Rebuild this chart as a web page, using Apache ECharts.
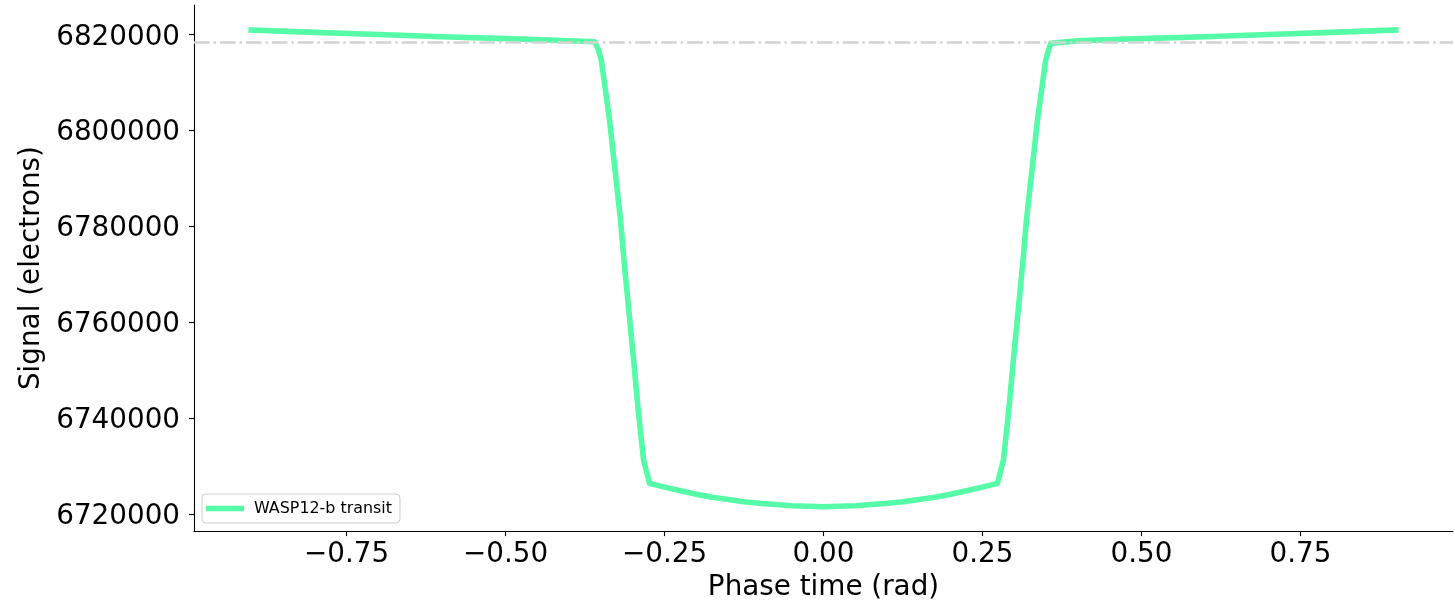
<!DOCTYPE html>
<html>
<head>
<meta charset="utf-8">
<script src="https://cdn.jsdelivr.net/npm/echarts@6/dist/echarts.min.js"></script>
<style>
html,body{margin:0;padding:0;background:#fff;}
#chart{width:1455px;height:607px;}
</style>
</head>
<body>
<div id="chart"></div>
<script>
// Data
const phase = [
  -0.9, -0.8, -0.7, -0.6, -0.5, -0.4, -0.36, -0.3575, -0.3538, -0.3495, -0.3365, -0.3192,
  -0.3135, -0.2987, -0.2914, -0.283, -0.2736, -0.25, -0.225, -0.2, -0.175, -0.15, -0.125, -0.1, -0.05, 0,
  0.05, 0.1, 0.125, 0.15, 0.175, 0.2, 0.225, 0.25, 0.2736, 0.283, 0.2914, 0.2987, 0.3135,
  0.3192, 0.3365, 0.3495, 0.3538, 0.3575, 0.36, 0.4, 0.5, 0.6, 0.7, 0.8, 0.9
];
const signal = [
  6820900, 6820400, 6819950, 6819500, 6819100, 6818650, 6818450, 6818100, 6816700, 6814650, 6802150, 6781300,
  6772500, 6752150, 6741700, 6731300, 6726400, 6725620, 6724850, 6724150, 6723520, 6723040, 6722580, 6722250, 6721750, 6721520,
  6721750, 6722250, 6722580, 6723040, 6723520, 6724150, 6724850, 6725620, 6726400, 6731300, 6741700, 6752150, 6772500,
  6781300, 6802150, 6814650, 6816700, 6818100, 6818450, 6818650, 6819100, 6819500, 6819950, 6820400, 6820900
];
const referenceLevel = 6818333;
const seriesName = 'WASP12-b transit';
const xTicks = [-0.75, -0.5, -0.25, 0, 0.25, 0.5, 0.75];
const yTicks = [6720000, 6740000, 6760000, 6780000, 6800000, 6820000];
const xTitle = 'Phase time (rad)';
const yTitle = 'Signal (electrons)';

const FONT = 'DejaVu Sans';
const chart = echarts.init(document.getElementById('chart'), null, {renderer: 'canvas'});
const pts = phase.map((p, i) => [p, signal[i]]);

chart.setOption({
  animation: false,
  backgroundColor: '#ffffff',
  grid: {left: 194, right: 2, top: 5, bottom: 75.7, containLabel: false},
  xAxis: {
    type: 'value', min: -0.99, max: 0.99,
    name: xTitle, nameLocation: 'middle', nameGap: 39,
    nameTextStyle: {fontFamily: FONT, fontSize: 27.8, color: '#000'},
    axisLine: {show: true, onZero: false, lineStyle: {color: '#000', width: 1.1}},
    axisTick: {show: true, inside: false, length: 5, lineStyle: {color: '#000', width: 1.1}, customValues: xTicks},
    axisLabel: {
      show: true, margin: 10, fontFamily: FONT, fontSize: 27.8, color: '#000',
      customValues: xTicks,
      formatter: v => (v < 0 ? '\u2212' : '') + Math.abs(v).toFixed(2)
    },
    splitLine: {show: false}
  },
  yAxis: {
    type: 'value', min: 6716458, max: 6826104,
    name: yTitle, nameLocation: 'middle', nameGap: 148,
    nameTextStyle: {fontFamily: FONT, fontSize: 27.8, color: '#000'},
    axisLine: {show: true, onZero: false, lineStyle: {color: '#000', width: 1.1}},
    axisTick: {show: true, inside: false, length: 5, lineStyle: {color: '#000', width: 1.1}, customValues: yTicks},
    axisLabel: {
      show: true, margin: 14, fontFamily: FONT, fontSize: 27.8, color: '#000',
      customValues: yTicks,
      formatter: v => '{v|' + String(Math.round(v)) + '}',
      rich: {v: {fontFamily: FONT, fontSize: 27.8, color: '#000', padding: [6, 0, 0, 0], lineHeight: 28}}
    },
    splitLine: {show: false}
  },
  legend: {
    show: true, left: 202, top: 494, orient: 'horizontal',
    padding: [6, 8, 6, 4],
    borderColor: '#cccccc', borderWidth: 1, borderRadius: 4,
    backgroundColor: 'rgba(255,255,255,0.8)',
    itemWidth: 38, itemHeight: 5.5,
    icon: 'rect',
    textStyle: {fontFamily: FONT, fontSize: 15.9, color: '#000', padding: [0, 0, 0, 5], lineHeight: 17},
    data: [{name: seriesName, icon: 'rect', itemStyle: {color: '#55fba6'}}]
  },
  series: [{
    name: seriesName,
    type: 'line',
    data: pts,
    showSymbol: false,
    smooth: false,
    lineStyle: {color: '#55fba6', width: 5.6, join: 'round', cap: 'square'},
    itemStyle: {color: '#55fba6'},
    z: 2,
    markLine: {
      silent: true, symbol: ['none', 'none'], label: {show: false},
      lineStyle: {color: '#d3d3d3', width: 2.5, type: [15.7, 3.9, 2.45, 3.9]},
      data: [{yAxis: referenceLevel}],
      z: 3
    }
  }]
});
</script>
</body>
</html>
